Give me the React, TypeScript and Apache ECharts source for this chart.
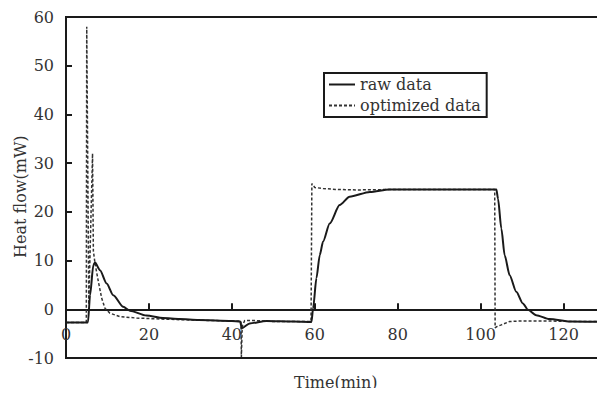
import React, { useEffect, useRef } from "react";
import * as echarts from "echarts";

const rawTime = [0, 5.3, 5.8, 6.6, 7.0, 8.2, 9.8, 11.4, 13.8, 15.4, 19.4, 23.4, 27.4, 32, 40, 42, 42.4, 44.3, 48.3, 55, 59.2, 59.6, 60.4, 61.2, 62, 63.6, 66, 68.4, 73.3, 78, 90, 103.8, 104.2, 105, 105.8, 107, 108.6, 110.2, 111.4, 113.4, 116.6, 121.6, 130];
const rawHeat = [-2.7, -2.7, 2.9, 9.1, 9.6, 8.0, 5.3, 2.9, 0.5, -0.3, -1.3, -1.8, -2.0, -2.2, -2.4, -2.5, -3.9, -2.9, -2.4, -2.5, -2.6, 0.2, 6.4, 11.1, 13.9, 17.6, 21.4, 23.1, 24.1, 24.6, 24.6, 24.6, 22.7, 16.6, 11.1, 7.0, 3.6, 1.2, -0.1, -1.2, -2.0, -2.5, -2.6];

const optTime = [0, 4.9, 5.0, 5.5, 6.4, 6.6, 7.0, 7.8, 8.6, 9.4, 10.6, 13, 17, 23, 30, 40, 42.2, 42.3, 42.5, 43.1, 45, 50, 59.1, 59.3, 60, 62, 65, 70, 80, 90, 100, 103.4, 103.5, 103.8, 105, 107, 110, 116.6, 122, 130];
const optHeat = [-2.7, -2.7, 58, 1, 32, 12, 9.4, 5.7, 2.3, 0.2, -0.8, -1.5, -1.8, -2.0, -2.2, -2.4, -2.4, -9.8, -3.5, -2.3, -2.3, -2.5, -2.5, 25.8, 25, 24.8, 24.6, 24.5, 24.6, 24.6, 24.6, 24.6, -3.8, -3.6, -3.2, -2.5, -2.4, -2.4, -2.5, -2.5];

const seriesNames = ["raw data", "optimized data"];
const xTitle = "Time(min)";
const yTitle = "Heat flow(mW)";

const FONT = "DejaVu Serif";
const TEXT = "#333";
const INK = "#1a1a1a";

const GRID_TOP = 17;
const GRID_BOTTOM = 38;
const Y_MIN = -10;
const Y_MAX = 60;

export default function App() {
  const ref = useRef<HTMLDivElement>(null);
  useEffect(() => {
    if (!ref.current) return;
    const chart = echarts.init(ref.current, null, { renderer: "svg" });
    const raw = rawTime.map((t, i) => [t, rawHeat[i]]);
    const opt = optTime.map((t, i) => [t, optHeat[i]]);
    const plotH = 396 - GRID_TOP - GRID_BOTTOM;
    const zeroOffset = -plotH * (0 - Y_MIN) / (Y_MAX - Y_MIN);
    chart.setOption({
      animation: false,
      backgroundColor: "#fff",
      grid: {
        left: 66,
        right: -1,
        top: GRID_TOP,
        bottom: GRID_BOTTOM,
        show: true,
        borderColor: INK,
        borderWidth: 2,
        backgroundColor: "transparent",
      },
      legend: {
        data: seriesNames,
        orient: "vertical",
        left: 324,
        top: 73,
        borderColor: INK,
        borderWidth: 2,
        padding: [3, 6, 3, 4],
        itemWidth: 26,
        itemHeight: 14,
        itemGap: 4,
        itemStyle: { opacity: 0 },
        textStyle: { fontFamily: FONT, fontSize: 16, color: TEXT, lineHeight: 17 },
      },
      xAxis: {
        type: "value",
        min: 0,
        max: 130,
        interval: 20,
        offset: zeroOffset,
        axisLine: { onZero: false, lineStyle: { color: INK, width: 2 } },
        axisTick: { inside: true, length: 6, lineStyle: { color: INK, width: 2 } },
        axisLabel: {
          showMaxLabel: false,
          margin: 17,
          fontFamily: FONT,
          fontSize: 16,
          color: TEXT,
        },
        splitLine: { show: false },
      },
      yAxis: {
        type: "value",
        min: Y_MIN,
        max: Y_MAX,
        interval: 10,
        axisLine: { show: true, onZero: false, lineStyle: { color: INK, width: 2 } },
        axisTick: { show: true, inside: true, length: 6, lineStyle: { color: INK, width: 2 } },
        axisLabel: { margin: 12, fontFamily: FONT, fontSize: 16, color: TEXT },
        splitLine: { show: false },
      },
      graphic: [
        {
          type: "text",
          left: 294,
          top: 374,
          style: { text: xTitle, font: `16px "${FONT}"`, fill: TEXT },
        },
        {
          type: "text",
          x: 12,
          y: 258,
          rotation: Math.PI / 2,
          style: { text: yTitle, font: `16px "${FONT}"`, fill: TEXT },
        },
      ],
      series: [
        {
          name: seriesNames[0],
          type: "line",
          data: raw,
          symbol: "none",
          smooth: 0.25,
          smoothMonotone: "x",
          lineStyle: { color: INK, width: 2 },
          itemStyle: { color: INK },
          z: 3,
        },
        {
          name: seriesNames[1],
          type: "line",
          data: opt,
          symbol: "none",
          lineStyle: { color: "#333", width: 1.5, type: [3, 2] },
          itemStyle: { color: "#333" },
          z: 2,
        },
      ],
    });
    return () => chart.dispose();
  }, []);
  return <div ref={ref} style={{ width: 605, height: 396, margin: -8 }} />;
}
